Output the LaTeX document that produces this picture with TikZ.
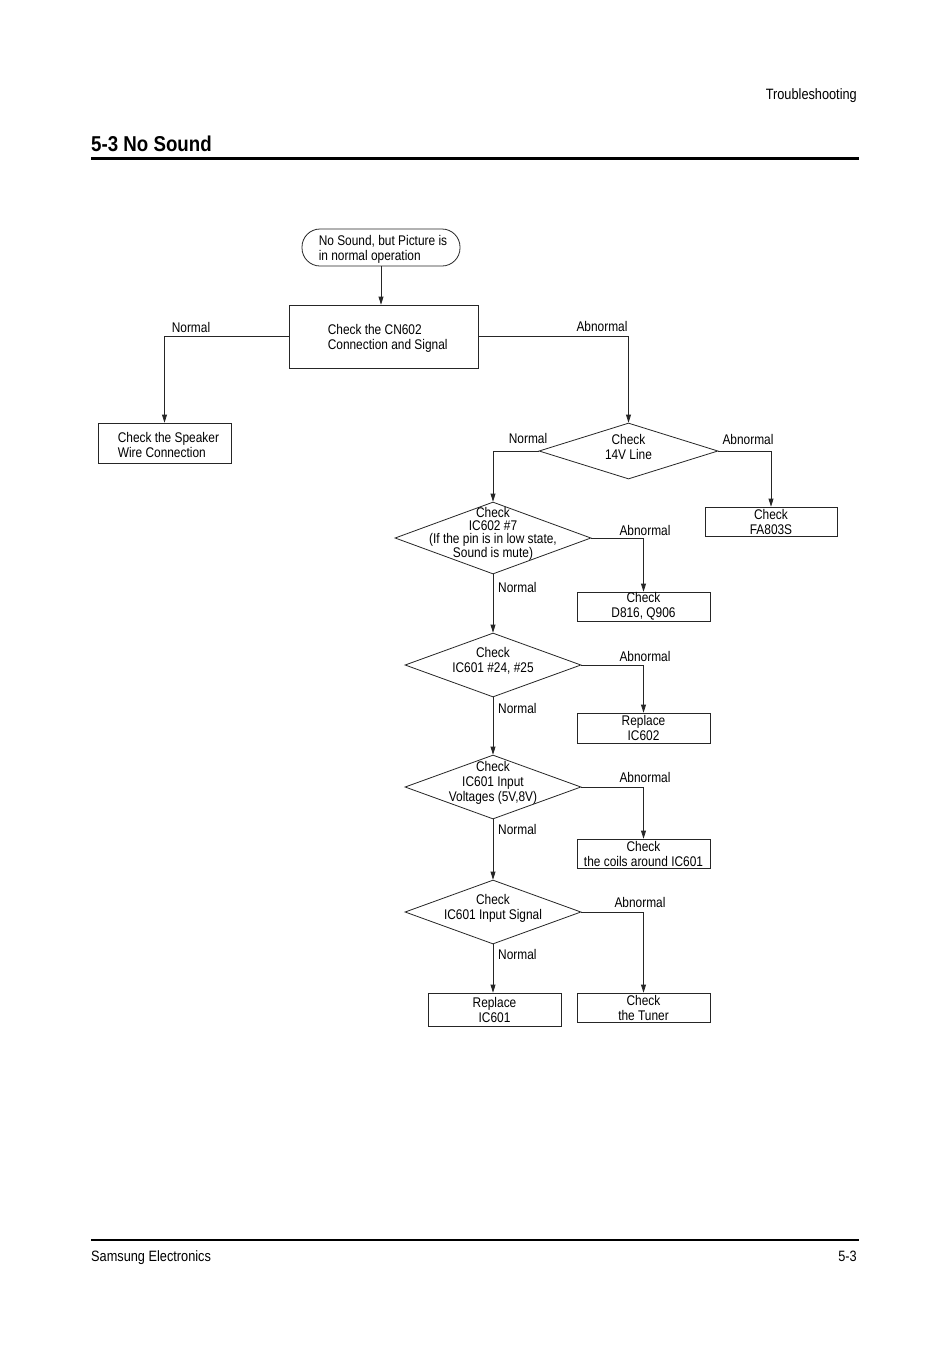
\documentclass[tikz,border=0pt]{standalone}
\usepackage{fontspec}
\setmainfont{Liberation Sans}[FakeStretch=0.85]
\newfontfamily\headfont{Liberation Sans}[FakeStretch=0.87]
\usetikzlibrary{shapes.geometric,arrows.meta}

\tikzset{
  line/.style={draw=black!85, line width=0.8pt},
  arrow/.style={line, -{Triangle[length=8pt,width=5pt]}},
  txt/.style={font=\fontsize{14}{15}\selectfont, inner sep=0pt},
  box/.style={line, txt, rectangle, align=center},
  decision/.style={line, diamond, inner sep=0pt, minimum width=176pt, minimum height=64pt},
  dtext/.style={txt, align=center, yshift=4pt},
  ltext/.style={txt, align=left, anchor=west, xshift=#1, yshift=-1.5pt},
  lbl/.style={txt}
}

\begin{document}
\begin{tikzpicture}[x=1pt, y=-1pt]
    \useasboundingbox[fill=white] (0,0) rectangle (950,1345);

    % Page header and footer
    \node[txt, font=\fontsize{15}{16}\selectfont, anchor=base east] (head) at (857,99) {Troubleshooting};
    \node[inner sep=0pt, anchor=west, font=\headfont\bfseries\fontsize{21.5}{24}\selectfont] (title) at (91,144) {5-3 No Sound};
    \draw[line width=3pt] (91,158) -- (859,158);
    \draw[line width=1.2pt] (91,1240) -- (859,1240);
    \node[txt, font=\fontsize{15}{16}\selectfont, anchor=base west] (foot) at (91,1261.5) {Samsung Electronics};
    \node[txt, font=\fontsize{15}{16}\selectfont, anchor=base east] (page) at (857,1261.5) {5-3};

    % Start and first check
    \node[box, rounded corners=18pt, minimum width=158pt, minimum height=37pt,
          label={[ltext=17pt]west:No Sound, but Picture is\\in normal operation}] (start) at (381,247.5) {};
    \node[box, minimum width=189pt, minimum height=63pt,
          label={[ltext=39pt]west:Check the CN602\\Connection and Signal}] (cn602) at (383.5,336.5) {};
    \node[box, minimum width=133pt, minimum height=40pt,
          label={[ltext=20pt]west:Check the Speaker\\Wire Connection}] (speaker) at (164.5,443) {};
    \draw[arrow] (start) -- (start |- cn602.north);
    \draw[arrow] (cn602.west) -| (speaker.north);
    \node[lbl] (n1) at (191,327) {Normal};

    % 14V line
    \node[decision, minimum width=179pt, minimum height=56pt, label={[dtext]center:Check\\14V Line}] (d14v) at (628.5,451) {};
    \node[box, minimum width=132pt, minimum height=29pt] (fa803s) at (771,521.5) {Check\\FA803S};
    \draw[arrow] (cn602.east) -| (d14v.north);
    \node[lbl] (a1) at (602,326) {Abnormal};
    \draw[arrow] (d14v.east) -| (fa803s.north);
    \node[lbl] (a0) at (748,439) {Abnormal};

    % Decisions down the middle
    \node[decision, minimum width=196pt, minimum height=72pt, label={[dtext, font=\fontsize{14}{12.7}\selectfont]center:Check\\IC602 \#7\\(If the pin is in low state,\\Sound is mute)}] (ic602) at (493,538) {};
    \node[decision, label={[dtext]center:Check\\IC601 \#24, \#25}] (ic601) at (493,665) {};
    \node[decision, label={[dtext]center:Check\\IC601 Input\\Voltages (5V,8V)}] (volt) at (493,787) {};
    \node[decision, label={[dtext]center:Check\\IC601 Input Signal}] (signal) at (493,912) {};
    \node[box, minimum width=133pt, minimum height=33pt] (repic601) at (494.5,1009.5) {Replace\\IC601};
    \draw[arrow] (d14v.west) -| (ic602.north);
    \node[lbl] (n0) at (528,438) {Normal};

    % Result boxes on the right
    \node[box, minimum width=133pt, minimum height=29pt] (d816) at (643.5,606.5) {Check\\D816, Q906};
    \node[box, minimum width=133pt, minimum height=30pt] (repic602) at (643.5,728) {Replace\\IC602};
    \node[box, minimum width=133pt, minimum height=29pt] (coils) at (643.5,853.5) {Check\\the coils around IC601};
    \node[box, minimum width=133pt, minimum height=29pt] (tuner) at (643.5,1007.5) {Check\\the Tuner};

    % Normal path
    \foreach \a/\b/\y [count=\k] in {ic602/ic601/587, ic601/volt/708, volt/signal/829, signal/repic601/954} {
        \draw[arrow] (\a.south) -- (\a.south |- \b.north);
        \node[lbl, anchor=west] (nn\k) at (498,\y) {Normal};
    }

    % Abnormal path
    \foreach \a/\b/\x/\y [count=\k] in {ic602/d816/645/530, ic601/repic602/645/656, volt/coils/645/777, signal/tuner/640/902} {
        \draw[arrow] (\a.east) -| (\b.north);
        \node[lbl] (aa\k) at (\x,\y) {Abnormal};
    }
\end{tikzpicture}
\end{document}
